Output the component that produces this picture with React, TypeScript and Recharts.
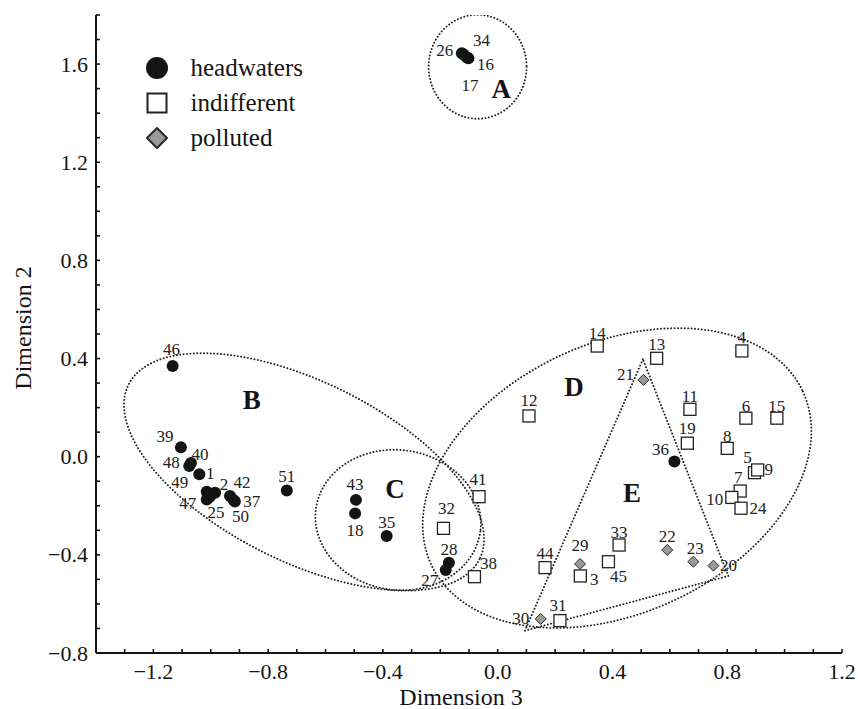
import { FC } from 'react';
import { Legend, Scatter, ScatterChart, XAxis, YAxis } from 'recharts';

interface SitePoint {
  id: string;
  x: number;
  y: number;
}

// Dimension 3 (x) / Dimension 2 (y) scores per site
const headwaters: SitePoint[] = [
  { id: '26', x: -0.125, y: 1.644 },
  { id: '34', x: -0.119, y: 1.639 },
  { id: '16', x: -0.102, y: 1.624 },
  { id: '17', x: -0.107, y: 1.627 },
  { id: '46', x: -1.133, y: 0.37 },
  { id: '39', x: -1.104, y: 0.038 },
  { id: '48', x: -1.075, y: -0.038 },
  { id: '40', x: -1.069, y: -0.026 },
  { id: '1', x: -1.04, y: -0.072 },
  { id: '49', x: -1.014, y: -0.143 },
  { id: '2', x: -0.985, y: -0.147 },
  { id: '47', x: -1.014, y: -0.174 },
  { id: '25', x: -1.003, y: -0.163 },
  { id: '42', x: -0.933, y: -0.16 },
  { id: '37', x: -0.916, y: -0.183 },
  { id: '50', x: -0.921, y: -0.176 },
  { id: '51', x: -0.735, y: -0.138 },
  { id: '43', x: -0.494, y: -0.176 },
  { id: '18', x: -0.497, y: -0.231 },
  { id: '35', x: -0.387, y: -0.323 },
  { id: '28', x: -0.17, y: -0.432 },
  { id: '27', x: -0.181, y: -0.462 },
  { id: '36', x: 0.616, y: -0.02 },
];

const indifferent: SitePoint[] = [
  { id: '32', x: -0.189, y: -0.292 },
  { id: '41', x: -0.065, y: -0.163 },
  { id: '38', x: -0.081, y: -0.489 },
  { id: '44', x: 0.165, y: -0.452 },
  { id: '3', x: 0.288, y: -0.486 },
  { id: '45', x: 0.386, y: -0.428 },
  { id: '33', x: 0.423, y: -0.36 },
  { id: '31', x: 0.217, y: -0.668 },
  { id: '14', x: 0.347, y: 0.451 },
  { id: '13', x: 0.554, y: 0.401 },
  { id: '4', x: 0.851, y: 0.431 },
  { id: '12', x: 0.109, y: 0.166 },
  { id: '11', x: 0.67, y: 0.193 },
  { id: '6', x: 0.865, y: 0.157 },
  { id: '15', x: 0.973, y: 0.157 },
  { id: '19', x: 0.661, y: 0.055 },
  { id: '8', x: 0.8, y: 0.034 },
  { id: '5', x: 0.895, y: -0.065 },
  { id: '9', x: 0.906, y: -0.054 },
  { id: '7', x: 0.845, y: -0.14 },
  { id: '10', x: 0.816, y: -0.166 },
  { id: '24', x: 0.848, y: -0.21 },
];

const polluted: SitePoint[] = [
  { id: '21', x: 0.508, y: 0.313 },
  { id: '29', x: 0.287, y: -0.437 },
  { id: '22', x: 0.591, y: -0.38 },
  { id: '23', x: 0.682, y: -0.428 },
  { id: '20', x: 0.752, y: -0.444 },
  { id: '30', x: 0.15, y: -0.661 },
];

const xTickLabels = [-1.2, -0.8, -0.4, 0, 0.4, 0.8, 1.2];
const yTickLabels = [-0.8, -0.4, 0, 0.4, 0.8, 1.2, 1.6];

const groupLetters: SitePoint[] = [
  { id: 'A', x: 0.012, y: 1.498 },
  { id: 'B', x: -0.857, y: 0.231 },
  { id: 'C', x: -0.358, y: -0.132 },
  { id: 'D', x: 0.266, y: 0.284 },
  { id: 'E', x: 0.468, y: -0.148 },
];

// group outlines: centre in data units, semi-axes in px, tilt in degrees (clockwise on screen)
const groupEllipses = [
  { id: 'A', cx: -0.07, cy: 1.589, a: 49, b: 52, tilt: 0 },
  { id: 'B', cx: -0.675, cy: -0.062, a: 196, b: 90, tilt: 26.4 },
  { id: 'C', cx: -0.347, cy: -0.258, a: 83, b: 70, tilt: 8 },
  { id: 'D', cx: 0.416, cy: -0.087, a: 205, b: 135, tilt: -25 },
];

const groupTriangle = [
  { x: 0.506, y: 0.397 },
  { x: 0.095, y: -0.709 },
  { x: 0.804, y: -0.486 },
  { x: 0.506, y: 0.397 },
];

const X_DOMAIN: [number, number] = [-1.4, 1.2];
const Y_DOMAIN: [number, number] = [-0.8, 1.8];

const WIDTH = 858;
const HEIGHT = 709;
const MARGIN = { top: 15, right: 16, bottom: 0, left: 0 };
const Y_AXIS_W = 96;
const X_AXIS_H = 56;
const PLOT_W = WIDTH - MARGIN.left - MARGIN.right - Y_AXIS_W;
const PLOT_H = HEIGHT - MARGIN.top - MARGIN.bottom - X_AXIS_H;
const PX_PER_X = PLOT_W / (X_DOMAIN[1] - X_DOMAIN[0]);
const PX_PER_Y = PLOT_H / (Y_DOMAIN[1] - Y_DOMAIN[0]);

const SERIF = "'Liberation Serif', 'Times New Roman', serif";
const INK = '#141414';

const minorTicks = (from: number, to: number) =>
  Array.from({ length: Math.round((to - from) * 10) + 1 }, (_, i) =>
    Number((from + i * 0.1).toFixed(1)),
  );
const xTicks = minorTicks(X_DOMAIN[0], X_DOMAIN[1]);
const yTicks = minorTicks(Y_DOMAIN[0], Y_DOMAIN[1]);

const labelOffset: Record<string, [number, number]> = {
  '46': [-1, -16], '39': [-16, -11], '48': [-18, -4], '40': [9, -9], '1': [11, -1],
  '49': [-27, -9], '2': [9, -8], '42': [12, -13], '47': [-19, 4], '25': [6, 16],
  '37': [17, 0], '50': [7, 17], '51': [0, -14], '43': [-1, -15], '18': [0, 17],
  '35': [0, -13], '28': [0, -13], '27': [-16, 10], '36': [-14, -12],
  '26': [-17, -3], '34': [18, -14], '16': [17, 6], '17': [3, 28],
  '32': [3, -20], '41': [-1, -17], '38': [14, -13], '44': [0, -14], '3': [14, 4],
  '45': [10, 15], '33': [0, -13], '31': [-2, -15], '24': [17, 0], '14': [0, -13],
  '13': [0, -14], '4': [0, -13], '12': [0, -15], '11': [0, -13], '6': [0, -12],
  '15': [0, -12], '19': [0, -15], '8': [0, -12], '5': [-7, -15], '9': [11, 0],
  '7': [-2, -14], '10': [-17, 2], '21': [-18, -5], '29': [0, -18], '22': [0, -13],
  '23': [2, -13], '20': [15, 0], '30': [-20, 0],
};

const ellipseOutline = (e: (typeof groupEllipses)[number]) => {
  const t = (e.tilt * Math.PI) / 180;
  return Array.from({ length: 145 }, (_, k) => {
    const s = (k / 144) * 2 * Math.PI;
    const dx = e.a * Math.cos(s) * Math.cos(t) - e.b * Math.sin(s) * Math.sin(t);
    const dy = e.a * Math.cos(s) * Math.sin(t) + e.b * Math.sin(s) * Math.cos(t);
    return { x: e.cx + dx / PX_PER_X, y: e.cy - dy / PX_PER_Y };
  });
};

const fmt = (v: number) => (v < -1e-9 ? `\u2212${Math.abs(v).toFixed(1)}` : Math.abs(v).toFixed(1));
const isLabelled = (list: number[], v: number) => list.some((l) => Math.abs(l - v) < 1e-6);

type MarkerKind = 'circle' | 'square' | 'diamond';

const Marker: FC<{ kind: MarkerKind; cx: number; cy: number; big?: boolean }> = ({ kind, cx, cy, big }) => {
  if (kind === 'circle') {
    return <circle cx={cx} cy={cy} r={big ? 11 : 6} fill={INK} />;
  }
  if (kind === 'square') {
    const h = big ? 9.5 : 6;
    return (
      <rect x={cx - h} y={cy - h} width={2 * h} height={2 * h} fill="#fff" stroke="#222" strokeWidth={big ? 2 : 1.3} />
    );
  }
  const h = big ? 10 : 5.5;
  return (
    <polygon
      points={`${cx},${cy - h} ${cx + h},${cy} ${cx},${cy + h} ${cx - h},${cy}`}
      fill="#9a9a9a"
      stroke="#2a2a2a"
      strokeWidth={big ? 2 : 1}
      strokeLinejoin="round"
    />
  );
};

const siteShape = (kind: MarkerKind) => (props: any) => {
  const { cx, cy, payload } = props;
  const [dx, dy] = labelOffset[payload.id] ?? [0, -14];
  return (
    <g>
      <Marker kind={kind} cx={cx} cy={cy} />
      <text
        x={cx + dx}
        y={cy + dy}
        textAnchor="middle"
        dominantBaseline="central"
        fontFamily={SERIF}
        fontSize={17}
        fill="#222"
      >
        {payload.id}
      </text>
    </g>
  );
};

const letterShape = (props: any) => (
  <text
    x={props.cx}
    y={props.cy}
    textAnchor="middle"
    dominantBaseline="central"
    fontFamily={SERIF}
    fontWeight="bold"
    fontSize={27}
    fill={INK}
  >
    {props.payload.id}
  </text>
);

const noShape = () => <g />;

const BottomTick = ({ x, y, payload }: any) => (
  <g>
    <line x1={x} x2={x} y1={y} y2={y - 4} stroke={INK} strokeWidth={1.6} />
    {isLabelled(xTickLabels, payload.value) ? (
      <text x={x} y={y + 26} textAnchor="middle" fontFamily={SERIF} fontSize={22} fill={INK}>
        {fmt(payload.value)}
      </text>
    ) : null}
  </g>
);

const TopTick = ({ x, y }: any) => <line x1={x} x2={x} y1={y} y2={y + 4} stroke={INK} strokeWidth={1.6} />;

const LeftTick = ({ x, y, payload }: any) => (
  <g>
    <line x1={x} x2={x + 4} y1={y} y2={y} stroke={INK} strokeWidth={1.6} />
    {isLabelled(yTickLabels, payload.value) ? (
      <text
        x={x - 8}
        y={y}
        textAnchor="end"
        dominantBaseline="central"
        fontFamily={SERIF}
        fontSize={22}
        fill={INK}
      >
        {fmt(payload.value)}
      </text>
    ) : null}
  </g>
);

const RightTick = ({ x, y }: any) => <line x1={x} x2={x - 4} y1={y} y2={y} stroke={INK} strokeWidth={1.6} />;

const xTitle = ({ viewBox }: any) => (
  <text
    x={viewBox.x + viewBox.width / 2 - 8}
    y={viewBox.y + 52}
    textAnchor="middle"
    fontFamily={SERIF}
    fontSize={24}
    fill={INK}
  >
    Dimension 3
  </text>
);

const yTitle = ({ viewBox }: any) => {
  const x = viewBox.x + 31;
  const y = viewBox.y + viewBox.height / 2 - 6;
  return (
    <text x={x} y={y} transform={`rotate(-90, ${x}, ${y})`} textAnchor="middle" fontFamily={SERIF} fontSize={24} fill={INK}>
      Dimension 2
    </text>
  );
};

const legendItems: { name: string; kind: MarkerKind }[] = [
  { name: 'headwaters', kind: 'circle' },
  { name: 'indifferent', kind: 'square' },
  { name: 'polluted', kind: 'diamond' },
];

const LegendBox = () => (
  <div style={{ fontFamily: SERIF, fontSize: 25, color: INK }}>
    {legendItems.map((item) => (
      <div key={item.name} style={{ display: 'flex', alignItems: 'center', height: 35 }}>
        <svg width={26} height={26} style={{ display: 'block' }}>
          <Marker kind={item.kind} cx={13} cy={13} big />
        </svg>
        <span style={{ marginLeft: 21, lineHeight: 'normal' }}>{item.name}</span>
      </div>
    ))}
  </div>
);

const outlineLine = {
  stroke: '#222',
  strokeWidth: 1.9,
  strokeDasharray: '0.1 3.3',
  strokeLinecap: 'round' as const,
  fill: 'none',
};

export default function App() {
  return (
    <div style={{ position: 'absolute', left: 0, top: 0, width: WIDTH, height: HEIGHT, background: '#fff' }}>
      <ScatterChart width={WIDTH} height={HEIGHT} margin={MARGIN}>
        <XAxis
          type="number"
          dataKey="x"
          domain={X_DOMAIN}
          allowDataOverflow
          ticks={xTicks}
          interval={0}
          height={X_AXIS_H}
          tickSize={0}
          tickMargin={0}
          tickLine={false}
          tick={<BottomTick />}
          axisLine={{ stroke: INK, strokeWidth: 2 }}
          label={xTitle}
        />
        <XAxis
          xAxisId="top"
          orientation="top"
          type="number"
          dataKey="x"
          domain={X_DOMAIN}
          allowDataOverflow
          ticks={xTicks}
          interval={0}
          height={0}
          tickSize={0}
          tickMargin={0}
          tickLine={false}
          tick={<TopTick />}
          axisLine={{ stroke: INK, strokeWidth: 2 }}
        />
        <YAxis
          type="number"
          dataKey="y"
          domain={Y_DOMAIN}
          allowDataOverflow
          ticks={yTicks}
          interval={0}
          width={Y_AXIS_W}
          tickSize={0}
          tickMargin={0}
          tickLine={false}
          tick={<LeftTick />}
          axisLine={{ stroke: INK, strokeWidth: 2 }}
          label={yTitle}
        />
        <YAxis
          yAxisId="right"
          orientation="right"
          type="number"
          dataKey="y"
          domain={Y_DOMAIN}
          allowDataOverflow
          ticks={yTicks}
          interval={0}
          width={0}
          tickSize={0}
          tickMargin={0}
          tickLine={false}
          tick={<RightTick />}
          axisLine={{ stroke: INK, strokeWidth: 2 }}
        />
        <Legend
          content={<LegendBox />}
          layout="vertical"
          align="center"
          verticalAlign="middle"
          wrapperStyle={{ left: 143.5, top: 50, width: 'auto' }}
        />
        {groupEllipses.map((e) => (
          <Scatter
            key={`outline-${e.id}`}
            name={`group ${e.id}`}
            data={ellipseOutline(e)}
            shape={noShape}
            line={outlineLine}
            fill="#222"
            legendType="none"
            isAnimationActive={false}
          />
        ))}
        <Scatter
          name="group E"
          data={groupTriangle}
          shape={noShape}
          line={outlineLine}
          fill="#222"
          legendType="none"
          isAnimationActive={false}
        />
        <Scatter name="groups" data={groupLetters} shape={letterShape} legendType="none" isAnimationActive={false} />
        <Scatter name="polluted" data={polluted} shape={siteShape('diamond')} isAnimationActive={false} />
        <Scatter name="indifferent" data={indifferent} shape={siteShape('square')} isAnimationActive={false} />
        <Scatter name="headwaters" data={headwaters} shape={siteShape('circle')} isAnimationActive={false} />
      </ScatterChart>
    </div>
  );
}
